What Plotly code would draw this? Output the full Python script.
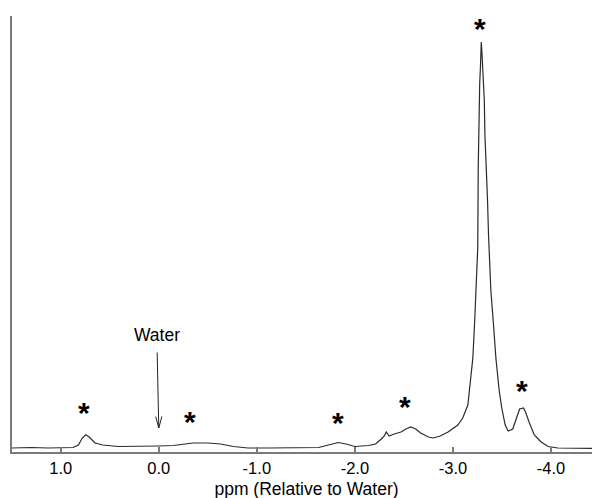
import plotly.graph_objects as go

# Spectrum trace: chemical shift (ppm) and intensity (arbitrary units, 0 = axis)
ppm = [1.50, 1.30, 1.13, 0.95, 0.874, 0.82, 0.78, 0.745, 0.71, 0.65, 0.57, 0.415, 0.21, 0.007,
       -0.15, -0.25, -0.35, -0.50, -0.63, -0.76, -0.91, -1.12, -1.42, -1.63, -1.73, -1.83,
       -1.91, -2.00, -2.14, -2.21, -2.27, -2.30, -2.32, -2.35, -2.40, -2.47, -2.52, -2.57,
       -2.62, -2.67, -2.75, -2.80, -2.87, -2.95, -3.05, -3.10, -3.152, -3.169, -3.203,
       -3.220, -3.236, -3.253, -3.258, -3.265, -3.273, -3.280, -3.286, -3.289, -3.296,
       -3.303, -3.320, -3.326, -3.343, -3.353, -3.363, -3.377, -3.387, -3.414, -3.438,
       -3.472, -3.498, -3.533, -3.564, -3.61, -3.65, -3.68, -3.72, -3.74, -3.78, -3.83,
       -3.90, -3.97, -4.07, -4.28, -4.45, -4.51]
intensity = [4, 4.5, 4, 4, 4.5, 7, 14, 17.3, 15, 9, 7, 5.5, 5.5, 6,
             6.5, 8, 9, 9, 8, 5.5, 4, 4, 4, 4.5, 7, 9.5,
             8, 5.5, 6.5, 8, 13, 16, 20, 16, 18, 20, 23, 25,
             23, 19, 15, 14, 16, 20, 27, 34, 47, 61, 94,
             127, 161, 204, 284, 334, 369, 384, 404, 410, 399,
             384, 351, 317, 284, 251, 217, 184, 161, 127, 94,
             61, 44, 27, 21, 23, 34, 43, 44, 40, 29, 17,
             10, 5.5, 4, 4, 3.5, 3.5]

# Peak markers (asterisks) and the water label
star_ppm = [0.762, -0.316, -1.83, -2.51, -3.28, -3.70]
star_int = [46, 37, 36, 52, 430, 68]
water_ppm = 0.0
water_tip = 24

tick_vals = [1.0, 0.0, -1.0, -2.0, -3.0, -4.0]
tick_text = ["1.0", "0.0", "-1.0", "-2.0", "-3.0", "-4.0"]

FONT = "Liberation Sans, Arial, sans-serif"
AXIS_COLOR = "#7a7a7a"
ARROW_COLOR = "#222222"

fig = go.Figure()
fig.add_trace(go.Scatter(x=ppm, y=intensity, mode="lines",
                         line=dict(color="#2a2a2a", width=1.2),
                         hoverinfo="skip", showlegend=False))

for sx, sy in zip(star_ppm, star_int):
    fig.add_annotation(x=sx, y=sy, text="<b>*</b>", showarrow=False,
                       font=dict(family=FONT, size=30, color="black"),
                       yanchor="middle", yshift=-6)

# "Water" label with a plain arrow shaft
fig.add_annotation(x=water_ppm, y=water_tip, text="Water", showarrow=True,
                   ax=-2, ay=-93, arrowhead=0, arrowwidth=1,
                   arrowcolor=ARROW_COLOR, startstandoff=6,
                   font=dict(family=FONT, size=17.5, color="black"))
# open V arrowhead at the tip
for side in (-3.5, 3.5):
    fig.add_annotation(x=water_ppm, y=water_tip, text="", showarrow=True,
                       ax=side, ay=-13, arrowhead=0, arrowwidth=1,
                       arrowcolor=ARROW_COLOR)

fig.update_layout(
    width=600, height=498,
    margin=dict(l=4, r=7, t=8, b=54),
    paper_bgcolor="white", plot_bgcolor="white",
    font=dict(family=FONT, color="black"),
    showlegend=False,
)
fig.update_xaxes(range=[1.497, -4.51], tickvals=tick_vals, ticktext=tick_text,
                 ticks="inside", ticklen=5, tickwidth=1.5, tickcolor=AXIS_COLOR,
                 showline=True, linecolor=AXIS_COLOR, linewidth=2,
                 showgrid=False, zeroline=False,
                 tickfont=dict(family=FONT, size=16.5, color="black"),
                 title=dict(text="ppm (Relative to Water)", standoff=7,
                            font=dict(family=FONT, size=17.5, color="black")))
fig.update_yaxes(range=[0, 436], showline=True, linecolor=AXIS_COLOR, linewidth=2,
                 showticklabels=False, ticks="", showgrid=False, zeroline=False)

fig.write_html("out.html")
